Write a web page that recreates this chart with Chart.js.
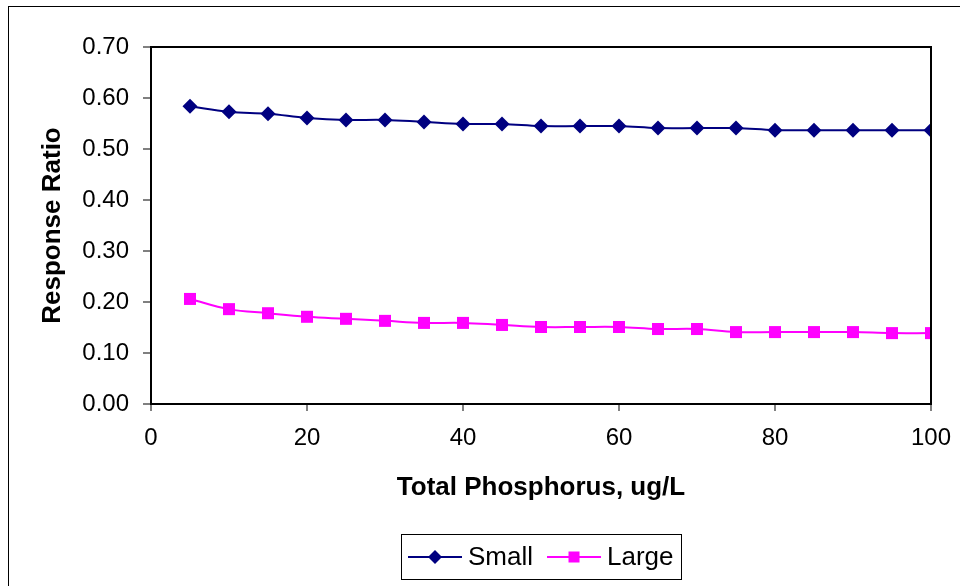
<!DOCTYPE html>
<html>
<head>
<meta charset="utf-8">
<script src="https://cdn.jsdelivr.net/npm/chart.js@4"></script>
<style>
  html, body { margin: 0; padding: 0; background: #fff; }
  #wrap { position: relative; width: 960px; height: 586px; }
</style>
</head>
<body>
<div id="wrap"><canvas id="chart" width="960" height="586"></canvas></div>
<script>
// data
const phosphorus = [5, 10, 15, 20, 25, 30, 35, 40, 45, 50, 55, 60, 65, 70, 75, 80, 85, 90, 95, 100];
const smallRatio = [0.584, 0.573, 0.569, 0.561, 0.557, 0.557, 0.553, 0.549, 0.549, 0.545,
                    0.545, 0.545, 0.541, 0.541, 0.541, 0.537, 0.537, 0.537, 0.537, 0.537];
const largeRatio = [0.206, 0.186, 0.178, 0.171, 0.167, 0.163, 0.159, 0.159, 0.155, 0.151,
                    0.151, 0.151, 0.147, 0.147, 0.141, 0.141, 0.141, 0.141, 0.139, 0.139];
const xTicks = [0, 20, 40, 60, 80, 100];
const yTicks = [0, 0.1, 0.2, 0.3, 0.4, 0.5, 0.6, 0.7];

const FONT = 'Liberation Sans, Arial, sans-serif';
const NAVY = '#000080';
const MAGENTA = '#ff00ff';

const toPts = (xs, ys) => xs.map((x, i) => ({ x: x, y: ys[i] }));

// outer frame + plot border
const framePlugin = {
  id: 'frame',
  beforeDraw(chart) {
    const ctx = chart.ctx;
    ctx.save();
    ctx.fillStyle = '#fff';
    ctx.fillRect(0, 0, chart.width, chart.height);
    ctx.strokeStyle = '#000';
    ctx.lineWidth = 1;
    ctx.strokeRect(8.5, 6.5, chart.width + 10, chart.height + 10);
    ctx.restore();
  },
  afterDatasetsDraw(chart) {
    const a = chart.chartArea, ctx = chart.ctx;
    ctx.save();
    ctx.strokeStyle = '#000';
    ctx.lineWidth = 2;
    ctx.strokeRect(a.left, a.top, a.right - a.left, a.bottom - a.top);
    ctx.restore();
  }
};

// Excel-style boxed legend with line + marker
const legendPlugin = {
  id: 'boxLegend',
  afterDraw(chart) {
    const ctx = chart.ctx;
    const bx = 401.5, by = 534.5, bw = 280, bh = 45;
    ctx.save();
    ctx.strokeStyle = '#000';
    ctx.lineWidth = 1;
    ctx.strokeRect(bx, by, bw, bh);
    ctx.font = '26px ' + FONT;
    ctx.textBaseline = 'middle';
    const cy = by + bh / 2;
    let x = bx + 6.5;
    chart.data.datasets.forEach(ds => {
      ctx.strokeStyle = ds.borderColor;
      ctx.lineWidth = 2;
      ctx.beginPath();
      ctx.moveTo(x, cy);
      ctx.lineTo(x + 54, cy);
      ctx.stroke();
      ctx.fillStyle = ds.backgroundColor;
      const mx = x + 27;
      if (ds.pointStyle === 'rectRot') {
        ctx.beginPath();
        ctx.moveTo(mx, cy - 7); ctx.lineTo(mx + 7, cy); ctx.lineTo(mx, cy + 7); ctx.lineTo(mx - 7, cy);
        ctx.closePath(); ctx.fill();
      } else {
        ctx.fillRect(mx - 5.5, cy - 5.5, 11, 11);
      }
      ctx.fillStyle = '#000';
      ctx.fillText(ds.label, x + 60, cy + 1);
      x += 60 + ctx.measureText(ds.label).width + 14;
    });
    ctx.restore();
  }
};

new Chart(document.getElementById('chart'), {
  type: 'line',
  data: {
    datasets: [
      { label: 'Small', data: toPts(phosphorus, smallRatio), borderColor: NAVY, backgroundColor: NAVY,
        borderWidth: 2, pointStyle: 'rectRot', pointRadius: 7.5, pointBorderWidth: 0, tension: 0.4 },
      { label: 'Large', data: toPts(phosphorus, largeRatio), borderColor: MAGENTA, backgroundColor: MAGENTA,
        borderWidth: 2, pointStyle: 'rect', pointRadius: 8.5, pointBorderWidth: 0, tension: 0.4 }
    ]
  },
  options: {
    responsive: false,
    animation: false,
    layout: { padding: { left: 0, top: 47, right: 29, bottom: 0 } },
    plugins: { legend: { display: false }, tooltip: { enabled: false } },
    scales: {
      x: {
        type: 'linear', min: 0, max: 100,
        afterBuildTicks: s => { s.ticks = xTicks.map(v => ({ value: v })); },
        afterFit: s => { s.height = 182; s.paddingLeft = 0; s.paddingRight = 0; },
        grid: { display: true, drawOnChartArea: false, color: '#808080', tickLength: 7, lineWidth: 2 },
        border: { display: false },
        ticks: { color: '#000', font: { family: FONT, size: 24 }, padding: 13 },
        title: { display: true, text: 'Total Phosphorus, ug/L', color: '#000',
                 font: { family: FONT, size: 26, weight: 'bold' }, padding: { top: 0, bottom: 83 } }
      },
      y: {
        min: 0, max: 0.7,
        afterBuildTicks: s => { s.ticks = yTicks.map(v => ({ value: v })); },
        afterFit: s => { s.width = 151; },
        grid: { display: true, drawOnChartArea: false, color: '#808080', tickLength: 8, lineWidth: 2 },
        border: { display: false },
        ticks: { color: '#000', font: { family: FONT, size: 24 }, padding: 14,
                 callback: v => v.toFixed(2) },
        title: { display: true, text: 'Response Ratio', color: '#000',
                 font: { family: FONT, size: 26, weight: 'bold' }, padding: { top: 37, bottom: 0 } }
      }
    }
  },
  plugins: [framePlugin, legendPlugin]
});
</script>
</body>
</html>
